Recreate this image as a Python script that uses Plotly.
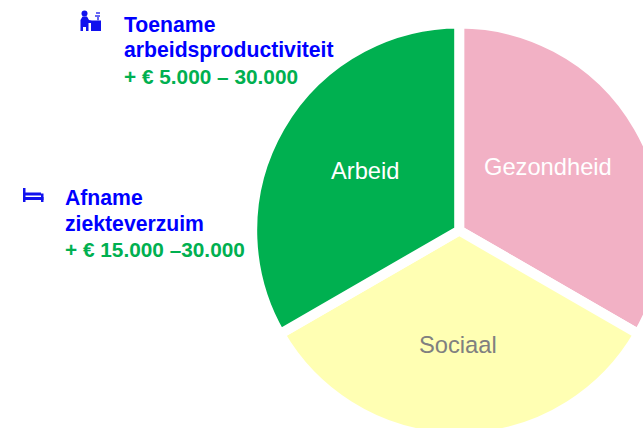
import plotly.graph_objects as go

# Data
categories = ["Gezondheid", "Sociaal", "Arbeid"]
values = [1, 1, 1]
slice_colors = ["#F2B1C5", "#FFFFB3", "#00B050"]
label_colors = ["#FFFFFF", "#808080", "#FFFFFF"]
label_px = [(548, 167), (458, 345), (365, 171)]

notes = [
    ("Toename", 124, 24.5, "#0000FF", 21.2),
    ("arbeidsproductiviteit", 124, 50.5, "#0000FF", 21.2),
    ("+ € 5.000 – 30.000", 124, 76.5, "#00B050", 20.8),
    ("Afname", 65, 198, "#0000FF", 21.2),
    ("ziekteverzuim", 65, 224, "#0000FF", 21.2),
    ("+ € 15.000 –30.000", 65, 249.5, "#00B050", 20.8),
]

W, H = 680, 440
CX, CY, R = 459.2, 230.5, 207
FONT = "Liberation Sans, Arial, sans-serif"


def px(x):
    return x / W


def py(y):
    return 1 - y / H


fig = go.Figure(
    go.Pie(
        labels=categories,
        values=values,
        sort=False,
        direction="clockwise",
        rotation=0,
        marker=dict(colors=slice_colors, line=dict(color="#FFFFFF", width=10)),
        textinfo="none",
        hoverinfo="label",
        showlegend=False,
        domain=dict(x=[px(CX - R), px(CX + R)], y=[py(CY + R), py(CY - R)]),
    )
)

annotations = []
for name, color, (x, y) in zip(categories, label_colors, label_px):
    annotations.append(dict(
        text=name, x=px(x), y=py(y), xref="paper", yref="paper",
        xanchor="center", yanchor="middle", showarrow=False,
        font=dict(family=FONT, size=23.7, color=color),
    ))
for text, x, y, color, size in notes:
    annotations.append(dict(
        text=f"<b>{text}</b>", x=px(x), y=py(y), xref="paper", yref="paper",
        xanchor="left", yanchor="middle", showarrow=False, xshift=-2,
        font=dict(family=FONT, size=size, color=color),
    ))


def P(points):
    return "M" + "L".join(f"{px(a):.5f},{py(b):.5f}" for a, b in points) + "Z"


def rect(x0, y0, x1, y1, color="#1111EE"):
    return dict(type="rect", xref="paper", yref="paper", x0=px(x0), x1=px(x1),
                y0=py(y0), y1=py(y1), fillcolor=color, line_width=0)


icon_shapes = [
    # person at desk
    dict(type="circle", xref="paper", yref="paper", x0=px(81.5), x1=px(87.5),
         y0=py(16.5), y1=py(10.5), fillcolor="#1111EE", line_width=0),
    dict(type="path", xref="paper", yref="paper", fillcolor="#1111EE", line_width=0,
         path=P([(82.5, 16.5), (87, 16.5), (89, 20), (92, 21), (92, 23), (88.5, 23),
                 (88.5, 31), (86, 31), (86, 27), (83, 27), (83, 31), (80.5, 31), (80.5, 20)])),
    rect(88, 20.5, 101, 23),
    rect(91, 23, 101, 31),
    rect(96, 12, 100, 14, "#6666F2"),
    rect(95, 15, 100, 17, "#6666F2"),
    rect(97, 17, 99, 20.5, "#6666F2"),
    # bed
    rect(23, 188, 25.5, 202),
    rect(25, 192.5, 41, 195.5),
    rect(25, 197, 43.5, 200),
    rect(41, 193.5, 43.5, 202),
]

fig.update_layout(
    width=W,
    height=H,
    autosize=False,
    margin=dict(l=0, r=0, t=0, b=0),
    paper_bgcolor="#FFFFFF",
    plot_bgcolor="#FFFFFF",
    annotations=annotations,
    shapes=icon_shapes,
)

fig.write_html(
    "out.html",
    config={"displayModeBar": False},
    post_script="document.documentElement.style.overflow='hidden';document.body.style.overflow='hidden';document.body.style.margin='0';",
)
